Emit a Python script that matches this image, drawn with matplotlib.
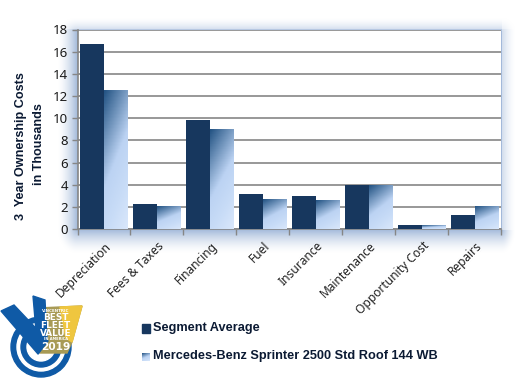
import numpy as np
import matplotlib
matplotlib.use('Agg')
import matplotlib.pyplot as plt
from matplotlib.patches import Polygon, Circle, Rectangle
from matplotlib.colors import LinearSegmentedColormap

categories = ['Depreciation', 'Fees & Taxes', 'Financing', 'Fuel', 'Insurance',
              'Maintenance', 'Opportunity Cost', 'Repairs']
segment_avg = [16.7, 2.3, 9.8, 3.2, 3.0, 4.0, 0.4, 1.3]
sprinter = [12.5, 2.0, 9.0, 2.7, 2.55, 3.95, 0.3, 2.0]
series_names = ['Segment Average', 'Mercedes-Benz Sprinter 2500 Std Roof 144 WB']
y_ticks = list(range(0, 20, 2))

W, H = 522, 381
navy = '#17375e'
grad = LinearSegmentedColormap.from_list('g', ['#245484', '#6f93bb', '#bcd3f3', '#c8dcf7', '#d9e7fb'])
bold_font = 'Liberation Sans'

fig = plt.figure(figsize=(W / 100, H / 100), dpi=100, facecolor='white')

# overlay in pixel coords for the shadow, the legend and the logo
bg = fig.add_axes([0, 0, 1, 1])
bg.axis('off')

# soft shadow behind the plot, stronger on the left and underneath
xx, yy = np.meshgrid(np.arange(W), np.arange(H))
left = np.clip(77 - xx, 0, None) / 20
right = np.clip(xx - 501, 0, None) / 14
top = np.clip(31 - yy, 0, None) / 14
bottom = np.clip(yy - 229, 0, None) / 24
dist = np.sqrt(left ** 2 + right ** 2 + top ** 2 + bottom ** 2)
strength = np.where((xx > 501) & (yy <= 229), 0.42, 0.8) * np.where(yy < 29, 0.6, 1.0)
shadow = np.clip(1 - dist, 0, 1) ** 1.6 * strength
shadow_rgb = np.ones((H, W, 3))
for i, c in enumerate((0.55, 0.66, 0.82)):
    shadow_rgb[..., i] = 1 - (1 - c) * shadow
bg.imshow(shadow_rgb, extent=(0, W, H, 0), aspect='auto', zorder=0)
bg.set_xlim(0, W)
bg.set_ylim(H, 0)

ax = fig.add_axes([77.5 / W, 1 - 229 / H, (501 - 77.5) / W, (229 - 29.5) / H])
ax.set_facecolor('white')
x = np.arange(len(categories))
w = 0.45
ax.bar(x - w / 2, segment_avg, w, color=navy, zorder=3)
bars = ax.bar(x + w / 2, sprinter, w, color='none', zorder=3)

# diagonal gradient inside each bar of the second series
g = np.linspace(0, 1, 40)
gx, gy = np.meshgrid(g, g)
diag = np.clip(gx * 0.3 + gy * 0.7, 0, 1)
for b in bars:
    x0, x1 = b.get_x(), b.get_x() + b.get_width()
    ax.imshow(diag, cmap=grad, vmin=0, vmax=1, extent=(x0, x1, 0, b.get_height()),
              aspect='auto', zorder=3, origin='upper')
ax.set_xlim(-0.5, len(categories) - 0.5)
ax.set_ylim(0, 18)

ax.set_yticks(y_ticks)
ax.set_xticks(np.arange(len(categories) + 1) - 0.5)
ax.set_xticklabels([])
ax.yaxis.grid(True, color='#868686', lw=1.2, zorder=1)
ax.set_axisbelow(True)
for s in ax.spines.values():
    s.set_visible(False)
for s in ('left', 'bottom'):
    ax.spines[s].set_visible(True)
    ax.spines[s].set_color('#868686')
    ax.spines[s].set_linewidth(1.2)
ax.tick_params(axis='both', color='#868686', length=4, width=1.0, labelcolor='#1a1a1a', pad=3)
ax.set_yticklabels([str(t) for t in y_ticks], family='Noto Sans', fontsize=9.5)

# rotated category labels
for i, c in enumerate(categories):
    ax.annotate(c, (i, 0), xytext=(0.5, -7.5), textcoords='offset points', rotation=45,
                ha='right', va='top', rotation_mode='anchor', fontsize=8.6, color='#222222',
                family='Noto Sans')

# axis title
bg.text(21, 146, '3  Year Ownership Costs', rotation=90, ha='center', va='center',
        fontsize=9.1, fontweight='bold', color='#0b1a33', family=bold_font)
bg.text(39, 144, 'in Thousands', rotation=90, ha='center', va='center',
        fontsize=9.1, fontweight='bold', color='#0b1a33', family=bold_font)

# legend
bg.add_patch(Rectangle((141.5, 324), 8, 8.5, color=navy, zorder=3))
bg.imshow(diag, cmap=grad, extent=(141.5, 149.5, 361, 353), aspect='auto', zorder=3, vmin=0, vmax=1)
bg.set_xlim(0, W)
bg.set_ylim(H, 0)
bg.text(153, 328.5, series_names[0], fontsize=9.2, fontweight='bold', color='#0b1a33', va='center', family=bold_font)
bg.text(153, 356.5, series_names[1], fontsize=9.2, fontweight='bold', color='#0b1a33', va='center', family=bold_font)

# logo
blue = '#0f5aa6'
bg.add_patch(Polygon([(38, 308), (82, 306), (72, 342), (67, 353), (40, 353)], color='#a89a55', zorder=2))
bg.add_patch(Polygon([(60, 307), (82, 306), (72, 342), (66, 338)], color='#efc63f', zorder=2))
for r, col in ((30, blue), (24, 'white'), (20, blue), (14, 'white')):
    bg.add_patch(Circle((41, 347), r, color=col, zorder=1.5))
bg.add_patch(Polygon([(1, 311), (14, 305), (48, 341), (38, 354)], color=blue, zorder=3))
bg.add_patch(Polygon([(33, 296), (45, 300), (47, 338), (38, 354)], color=blue, zorder=3))
for txt, yy_, fs in (('VINCENTRIC', 310.5, 2.9), ('BEST', 318, 6.4), ('FLEET', 326, 6.4),
                     ('VALUE', 334, 6.4), ('IN AMERICA', 339.5, 2.6), ('2019', 347, 7.6)):
    bg.text(55.5, yy_, txt, color='white', fontsize=fs, fontweight='bold', ha='center', va='center', zorder=7)

fig.savefig('out.png', dpi=100)
